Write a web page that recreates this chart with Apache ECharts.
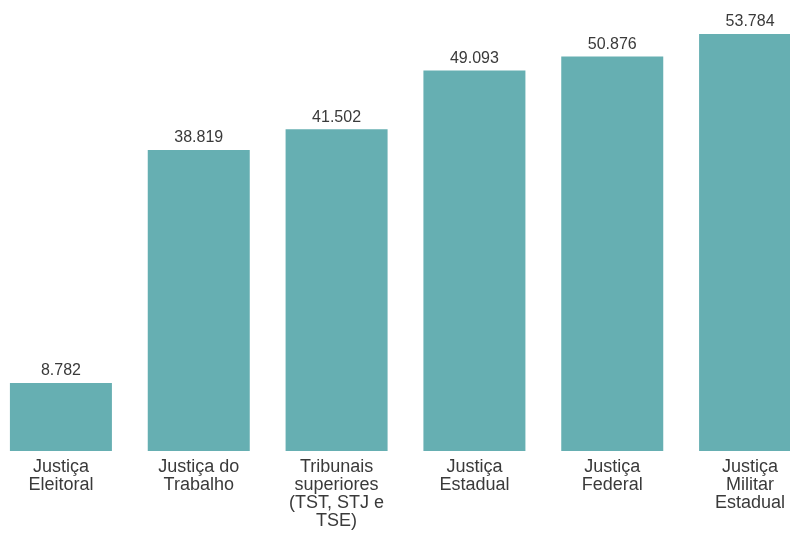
<!DOCTYPE html>
<html>
<head>
<meta charset="utf-8">
<script src="https://cdn.jsdelivr.net/npm/echarts@6/dist/echarts.min.js"></script>
<style>
  html, body { margin: 0; padding: 0; background: #fff; overflow: hidden; width: 790px; height: 534px; }
  /* the plot runs slightly past both window edges */
  #chart { width: 827px; height: 534px; margin-left: -8px; }
</style>
</head>
<body>
<div id="chart"></div>
<script>
// Categories (line breaks as drawn under each bar)
const categories = [
  'Justiça\nEleitoral',
  'Justiça do\nTrabalho',
  'Tribunais\nsuperiores\n(TST, STJ e\nTSE)',
  'Justiça\nEstadual',
  'Justiça\nFederal',
  'Justiça\nMilitar\nEstadual'
];
const values = [8.782, 38.819, 41.502, 49.093, 50.876, 53.784];

const fmt = v => v.toFixed(3);

const chart = echarts.init(document.getElementById('chart'), null, { renderer: 'canvas' });
chart.setOption({
  animation: false,
  backgroundColor: '#ffffff',
  grid: { left: 0, right: 0, top: 24.6, bottom: 83, containLabel: false },
  xAxis: {
    type: 'category',
    data: categories,
    axisLine: { show: false },
    axisTick: { show: false },
    axisLabel: {
      interval: 0,
      margin: 7,
      color: '#3a3a3a',
      fontFamily: 'Liberation Sans, Arial, sans-serif',
      fontSize: 18,
      lineHeight: 18
    }
  },
  yAxis: {
    type: 'value',
    min: 0,
    max: 55,
    show: false,
    splitLine: { show: false }
  },
  series: [{
    type: 'bar',
    data: values,
    barWidth: 102,
    itemStyle: { color: '#66afb2' },
    label: {
      show: true,
      position: 'top',
      distance: 4,
      color: '#3a3a3a',
      fontFamily: 'Liberation Sans, Arial, sans-serif',
      fontSize: 16,
      formatter: p => fmt(p.value)
    }
  }]
});
</script>
</body>
</html>
